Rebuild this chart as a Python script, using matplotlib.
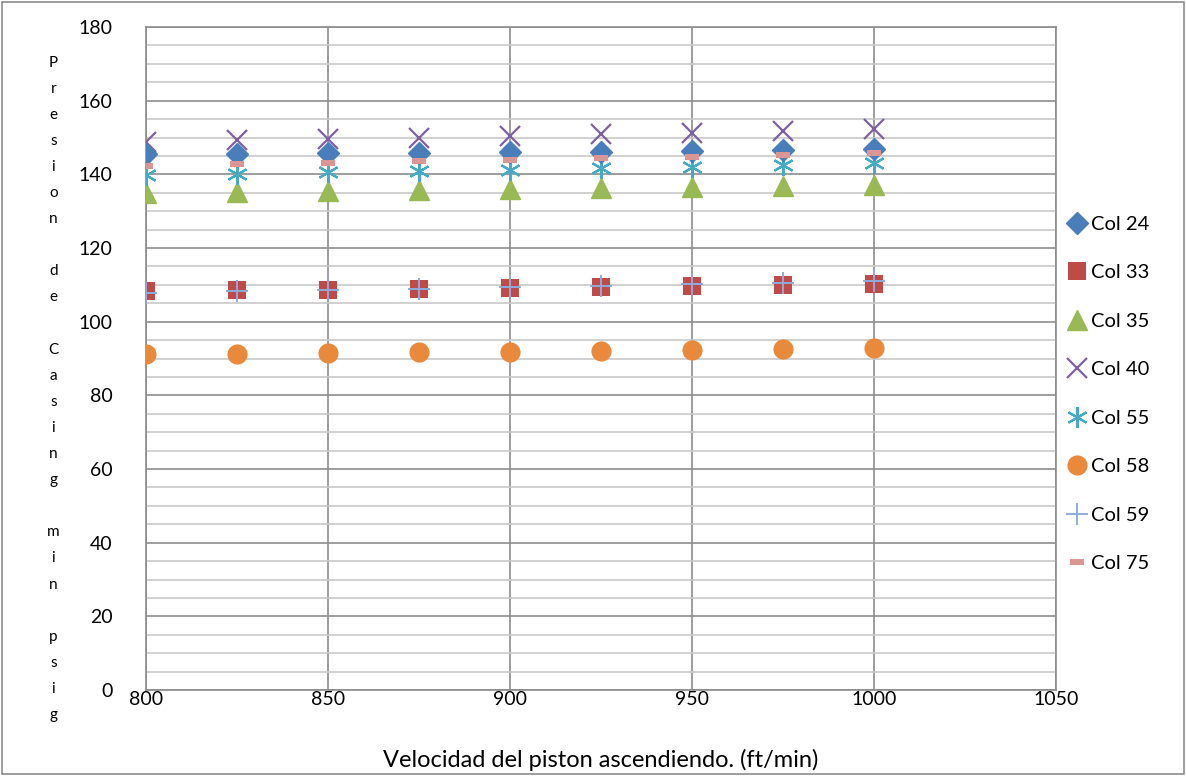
import matplotlib.pyplot as plt
from matplotlib.ticker import MultipleLocator

# ---------------- data ----------------
velocidad = [800, 825, 850, 875, 900, 925, 950, 975, 1000]
col24 = [145.5, 145.6, 145.7, 145.9, 146.0, 146.2, 146.4, 146.6, 146.8]
col33 = [108.2, 108.5, 108.7, 109.0, 109.2, 109.5, 109.8, 110.0, 110.3]
col35 = [135.0, 135.2, 135.5, 135.7, 136.0, 136.3, 136.5, 136.8, 137.1]
col40 = [148.8, 149.2, 149.6, 150.0, 150.4, 150.9, 151.3, 151.8, 152.3]
col55 = [139.8, 140.2, 140.5, 140.9, 141.3, 141.7, 142.1, 142.6, 143.1]
col58 = [91.1, 91.3, 91.5, 91.7, 91.8, 92.0, 92.2, 92.5, 92.8]
col59 = [107.8, 108.2, 108.6, 109.0, 109.4, 109.8, 110.2, 110.6, 111.1]
col75 = [142.3, 142.7, 143.2, 143.6, 144.0, 144.4, 144.8, 145.3, 145.8]

plt.rcParams['font.family'] = ['Lato', 'DejaVu Sans']

fig = plt.figure(figsize=(11.86, 7.76), dpi=100)
ax = fig.add_axes([0.1231, 0.1108, 0.7673, 0.8544])

# short flat dash like excel's "-" marker
dash = [(-1, -0.5), (1, -0.5), (1, 0.5), (-1, 0.5), (-1, -0.5)]

ax.plot(velocidad, col24, ls='none', marker='D', ms=11, color='#4A7EBB', label='Col 24', zorder=5)
ax.plot(velocidad, col33, ls='none', marker='s', ms=12.5, mew=0, color='#BE4B48', label='Col 33', zorder=4)
ax.plot(velocidad, col35, ls='none', marker='^', ms=15, color='#98B954', label='Col 35', zorder=4)
ax.plot(velocidad, col40, ls='none', marker='x', ms=14, mew=1.6, color='#7D60A0', label='Col 40', zorder=4)
ax.plot(velocidad, col55, ls='none', marker=(6, 2, 0), ms=15, mew=1.6, color='#46AAC5', label='Col 55', zorder=4)
ax.plot(velocidad, col58, ls='none', marker='o', ms=14.5, mew=0, color='#E8893C', label='Col 58', zorder=4)
ax.plot(velocidad, col59, ls='none', marker='+', ms=16, mew=1.4, color='#8FAADC', label='Col 59', zorder=6)
ax.plot(velocidad, col75, ls='none', marker=dash, ms=10, mew=0, color='#D99694', label='Col 75', zorder=6)

ax.set_xlim(800, 1050)
ax.set_ylim(0, 180)
ax.xaxis.set_major_locator(MultipleLocator(50))
ax.yaxis.set_major_locator(MultipleLocator(20))
ax.yaxis.set_minor_locator(MultipleLocator(5))
ax.grid(which='major', color='#8C8C8C', lw=1.2)
ax.grid(which='minor', axis='y', color='#C8C8C8', lw=1.2)
ax.set_axisbelow(True)
ax.tick_params(which='both', length=0, labelsize=14)
ax.tick_params(axis='y', pad=24)
ax.tick_params(axis='x', pad=1)
for s in ax.spines.values():
    s.set_color('#8C8C8C')
    s.set_linewidth(1.2)

ax.set_xlabel('Velocidad del piston ascendiendo. (ft/min)', fontsize=17, labelpad=29.5)

ylabel = 'Presion de Casing min psig'
stacked = '\n'.join(' ' if c == ' ' else c for c in ylabel)
fig.text(0.045, 0.499, stacked, fontsize=11, ha='center', va='center', linespacing=2.1)

ax.legend(loc='center left', bbox_to_anchor=(0.99, 0.4465), frameon=False,
          fontsize=14.5, labelspacing=1.56, handletextpad=0.1, handlelength=1.2)

fig.patches.append(plt.Rectangle((0.002, 0.002), 0.996, 0.996, transform=fig.transFigure,
                                 fill=False, edgecolor='#8C8C8C', lw=1.2))

fig.savefig('out.png', dpi=100)
